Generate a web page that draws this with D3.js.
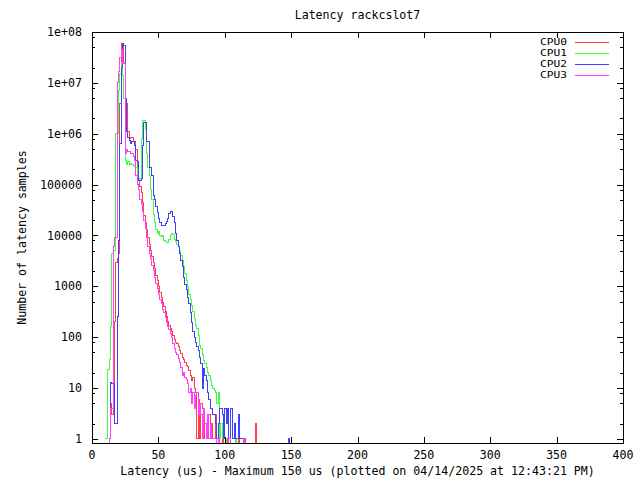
<!DOCTYPE html>
<html>
<head>
<meta charset="UTF-8">
<title>Latency rackcslot7</title>
<style>
  body { margin: 0; background: #fff; }
  svg text { font-family: "DejaVu Sans Mono", "Liberation Mono", monospace; font-size: 11.6px; fill: #000; }
  svg text.legend { font-size: 9.5px; }
</style>
<script src="https://d3js.org/d3.v7.min.js"></script>
</head>
<body>
<svg id="chart" width="640" height="480"></svg>
<script>
// histogram bins are 1 us wide, every array starts at bin 10
const binStart = 10;

const cpu0 = [0, 0, 0, 1, 5, 3, 8, 200, 3000, 3500,
  4500, 4e6, 6e7, 6e7, 2.4e7, 4e6, 4e6, 1.1e6, 8e5, 8.5e5,
  8.5e5, 7e5, 7e5, 5e5, 2.2e5, 1.2e5, 9e4, 7e4, 4.5e4, 2.5e4,
  1.8e4, 1.3e4, 9000, 6500, 5000, 3800, 2900, 2200, 1600, 1300,
  1000, 750, 600, 480, 400, 320, 260, 200, 170, 150,
  130, 110, 90, 80, 75, 65, 55, 48, 40, 36,
  32, 28, 26, 22, 18, 14, 16, 10, 8, 1,
  6, 1, 5, 4, 1, 2, 1, 1, 3, 1,
  2, 1, 1, 3, 1, 0, 1, 2, 0, 1,
  1, 0, 1, 0, 0, 0, 0, 0, 0, 0,
  1, 0, 0, 0, 0, 1, 0, 0, 0, 0,
  0, 0, 0, 2, 0];

const cpu1 = [1, 1, 23, 36, 160, 4500, 5000, 5000, 1e6, 1e6,
  7e6, 1.5e7, 2.5e7, 1.4e7, 5e6, 3e5, 2.5e5, 2.8e5, 2.5e5, 2.6e5,
  2.5e5, 2.4e5, 2.3e5, 2.2e5, 1.3e5, 1.2e5, 1.3e5, 8e5, 1.8e6, 1.8e6,
  1.2e6, 4e5, 2.2e5, 1.5e5, 8e4, 5e4, 2.6e4, 1.8e4, 1.3e4, 1.1e4,
  1.2e4, 1e4, 9500, 1e4, 8000, 7500, 7200, 7200, 8500, 1e4,
  1.1e4, 1.05e4, 8500, 7500, 6500, 6000, 5000, 4000, 3200, 2500,
  1800, 1300, 1000, 700, 550, 420, 320, 230, 170, 150,
  110, 70, 60, 45, 35, 30, 25, 20, 18, 14,
  11, 10, 9, 8, 5, 8, 1, 2, 1, 1,
  1, 0, 0, 0, 0, 0, 0, 0, 1, 0];

const cpu2 = [0, 0, 0, 1, 13, 12, 13, 2, 2, 250,
  8000, 6.5e5, 2e7, 6e7, 5.5e7, 5e6, 1.1e6, 8.5e5, 7.5e5, 6.5e5,
  7e5, 7e5, 6e5, 3e5, 2.8e5, 1.2e5, 1.2e5, 1.3e5, 6e5, 1.7e6,
  1.7e6, 7e5, 7e5, 2.2e5, 2.2e5, 1.5e5, 6e4, 5e4, 3.7e4, 2.8e4,
  2.2e4, 1.8e4, 1.6e4, 1.6e4, 1.55e4, 1.7e4, 1.9e4, 2.2e4, 2.7e4, 3e4,
  2.9e4, 2.4e4, 1.8e4, 1.1e4, 8000, 6000, 4500, 3200, 2400, 1500,
  1100, 850, 600, 450, 300, 190, 130, 100, 80, 65,
  55, 40, 30, 10, 24, 18, 14, 8, 6, 4,
  4, 3, 3, 2, 1, 2, 4, 4, 3, 1,
  4, 2, 4, 1, 4, 4, 1, 2, 1, 1,
  3, 1, 1, 1, 0, 0, 0, 0, 0, 0,
  0, 0, 0, 0, 0, 0, 0, 0, 0, 0,
  0, 0, 0, 0, 0, 0, 0, 0, 0, 0,
  0, 0, 0, 0, 0, 0, 0, 0, 1, 0];

const cpu3 = [0, 0, 0, 1, 4, 4, 6000, 9000, 9000, 1e7,
  1.7e7, 3.2e7, 4.5e7, 2.4e7, 2.5e7, 4e5, 5e5, 4.5e5, 4.5e5, 4e5,
  4e5, 3.5e5, 3e5, 1.5e5, 1e5, 8e4, 5e4, 4e4, 3e4, 2e4,
  1.4e4, 9000, 6000, 4500, 3500, 2600, 2000, 1500, 1150, 900,
  700, 550, 450, 350, 300, 240, 190, 160, 140, 120,
  100, 75, 60, 50, 45, 38, 32, 25, 18, 20,
  16, 15, 12, 8, 10, 5, 8, 4, 7, 8,
  3, 5, 3, 1, 4, 2, 1, 3, 1, 2,
  1, 1, 1, 1, 0, 1, 0, 0, 0, 0,
  0, 0, 0, 1, 0, 0, 0, 0, 0, 0,
  0, 0, 0, 0, 1, 0];

const seriesNames = ["CPU0", "CPU1", "CPU2", "CPU3"];
const seriesColors = ["#ff4040", "#40ff40", "#4040ff", "#ff40ff"];
const xTicks = [0, 50, 100, 150, 200, 250, 300, 350, 400];
const yTicks = [1, 10, 100, 1000, 10000, 100000, 1e6, 1e7, 1e8];
const yTickLabels = ["1", "10", "100", "1000", "10000", "100000", "1e+06", "1e+07", "1e+08"];
const yMinorSteps = [2, 5, 8];

const titleText = "Latency rackcslot7";
const xLabelText = "Latency (us) - Maximum 150 us (plotted on 04/14/2025 at 12:43:21 PM)";
const yLabelText = "Number of latency samples";

const svg = d3.select("#chart");
const plotLeft = 92, plotRight = 623, plotTop = 32, plotBottom = 443;

const x = d3.scaleLinear().domain([0, 400]).range([plotLeft, plotRight]);
const y = d3.scaleLog().domain([0.83, 1e8]).range([plotBottom, plotTop]);

function yPos(v) {
    return v > 0 ? y(v) : plotBottom;
}

// histogram steps
const line = d3.line()
    .x(d => x(d[0]))
    .y(d => yPos(d[1]))
    .curve(d3.curveStepAfter);

[cpu0, cpu1, cpu2, cpu3].forEach(function (counts, k) {
    const pts = counts.map((c, i) => [binStart + i, c]);
    pts.push([binStart + counts.length, 0]);
    svg.append("path")
        .datum(pts)
        .attr("d", line)
        .attr("fill", "none")
        .attr("stroke", seriesColors[k])
        .attr("stroke-width", 1)
        .attr("shape-rendering", "crispEdges");
});

// border on top of the data
svg.append("rect")
    .attr("x", plotLeft + 0.5)
    .attr("y", plotTop + 0.5)
    .attr("width", plotRight - plotLeft)
    .attr("height", plotBottom - plotTop)
    .attr("fill", "none")
    .attr("stroke", "black")
    .attr("stroke-width", 1)
    .attr("shape-rendering", "crispEdges");

function tick(x1, y1, x2, y2) {
    svg.append("line")
        .attr("x1", x1).attr("y1", y1)
        .attr("x2", x2).attr("y2", y2)
        .attr("stroke", "black")
        .attr("stroke-width", 1)
        .attr("shape-rendering", "crispEdges");
}

const majorLen = 6, minorLen = 3;

xTicks.forEach(function (t) {
    const px = Math.round(x(t)) + 0.5;
    tick(px, plotBottom, px, plotBottom - majorLen);
    tick(px, plotTop, px, plotTop + majorLen);
    svg.append("text")
        .attr("x", x(t))
        .attr("y", 455)
        .attr("dy", "0.35em")
        .attr("text-anchor", "middle")
        .text(t);
});

yTicks.forEach(function (t, i) {
    const py = Math.round(y(t)) + 0.5;
    tick(plotLeft, py, plotLeft + majorLen, py);
    tick(plotRight, py, plotRight - majorLen, py);
    svg.append("text")
        .attr("x", 82)
        .attr("y", y(t))
        .attr("dy", "0.35em")
        .attr("text-anchor", "end")
        .text(yTickLabels[i]);
    if (i < yTicks.length - 1) {
        yMinorSteps.forEach(function (m) {
            const my = Math.round(y(t * m)) + 0.5;
            tick(plotLeft, my, plotLeft + minorLen, my);
            tick(plotRight, my, plotRight - minorLen, my);
        });
    }
});

// titles
svg.append("text")
    .attr("x", (plotLeft + plotRight) / 2)
    .attr("y", 15)
    .attr("dy", "0.35em")
    .attr("text-anchor", "middle")
    .text(titleText);

svg.append("text")
    .attr("x", (plotLeft + plotRight) / 2)
    .attr("y", 471)
    .attr("dy", "0.35em")
    .attr("text-anchor", "middle")
    .text(xLabelText);

svg.append("text")
    .attr("transform", "translate(22," + (plotTop + plotBottom) / 2 + ") rotate(-90)")
    .attr("dy", "0.35em")
    .attr("text-anchor", "middle")
    .text(yLabelText);

// legend
seriesNames.forEach(function (name, k) {
    const ly = 41.5 + k * 11.2;
    svg.append("text")
        .attr("class", "legend")
        .attr("x", 567)
        .attr("y", ly)
        .attr("dy", "0.35em")
        .attr("text-anchor", "end")
        .attr("textLength", 27)
        .attr("lengthAdjust", "spacingAndGlyphs")
        .text(name);
    svg.append("line")
        .attr("x1", 575).attr("y1", Math.round(ly) + 0.5)
        .attr("x2", 609).attr("y2", Math.round(ly) + 0.5)
        .attr("stroke", seriesColors[k])
        .attr("stroke-width", 1)
        .attr("shape-rendering", "crispEdges");
});
</script>
</body>
</html>
